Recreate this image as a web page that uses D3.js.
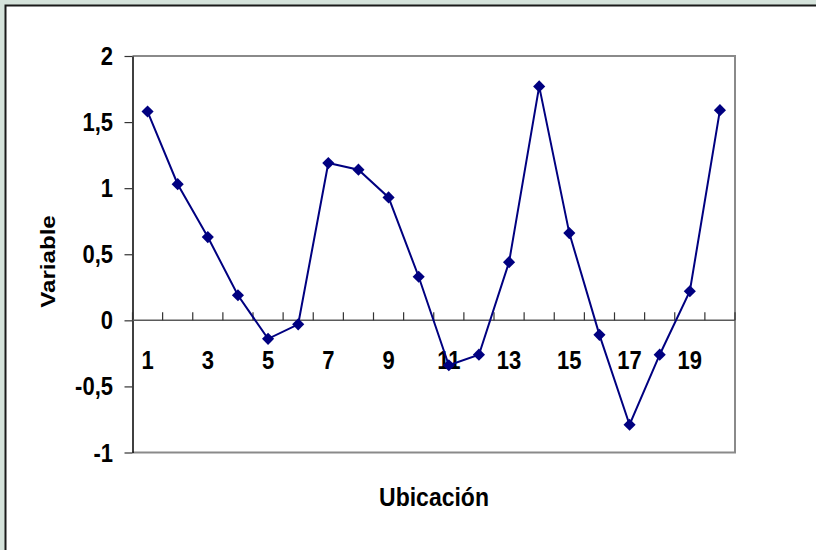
<!DOCTYPE html>
<html>
<head>
<meta charset="utf-8">
<script src="https://cdn.jsdelivr.net/npm/d3@7/dist/d3.min.js"></script>
<style>
  html, body { margin: 0; padding: 0; background: #d5e3db; }
  svg { display: block; }
  text { font-family: "Liberation Sans", Arial, sans-serif; font-weight: bold; fill: #000; }
</style>
</head>
<body>
<svg id="chart" width="816" height="550"></svg>
<script>
// Ubicaciones (categorías del eje X)
const ubicaciones = d3.range(1, 21);
// Valor de la variable en cada ubicación
const valores = [1.58, 1.03, 0.63, 0.19, -0.14, -0.03, 1.19, 1.14, 0.93, 0.33,
                 -0.34, -0.26, 0.44, 1.77, 0.66, -0.11, -0.79, -0.26, 0.22, 1.59];
// Marcas del eje Y y etiquetas impresas del eje X
const yTicks = [-1, -0.5, 0, 0.5, 1, 1.5, 2];
const xLabels = [1, 3, 5, 7, 9, 11, 13, 15, 17, 19];

const svg = d3.select("#chart");
const W = 816, H = 550;
const plot = { left: 132.5, right: 735, top: 56, bottom: 452.5 };
const fontSize = 22, stretch = 1.15;

// Fondo y marco exterior
svg.append("rect").attr("x", 0).attr("y", 0).attr("width", W).attr("height", H).attr("fill", "#d5e3db");
svg.append("rect").attr("x", 5.5).attr("y", 5.5).attr("width", W + 20).attr("height", H + 20)
  .attr("fill", "#fff").attr("stroke", "#1a1a1a").attr("stroke-width", 2);

const x = d3.scaleBand().domain(ubicaciones).range([plot.left, plot.right]).padding(0);
const y = d3.scaleLinear().domain([-1, 2]).range([plot.bottom, plot.top]);

const es = d3.formatLocale({ decimal: ",", thousands: ".", grouping: [3], currency: ["", " €"], minus: "-" });
const fmt = es.format(".1~f");

// Bordes del área de trazado (arriba, derecha, abajo en gris)
svg.append("path")
  .attr("d", `M${plot.left},${plot.top}H${plot.right}V${plot.bottom}H${plot.left}`)
  .attr("fill", "none").attr("stroke", "#8a8a8a").attr("stroke-width", 2);

// Eje Y
const yAxis = svg.append("g").attr("transform", `translate(${plot.left},0)`)
  .call(d3.axisLeft(y).tickValues(yTicks).tickSize(8).tickSizeOuter(0).tickFormat(""));
yAxis.select(".domain").attr("stroke", "#000").attr("stroke-width", 1.5);
yAxis.selectAll(".tick line").attr("stroke", "#333").attr("stroke-width", 1.2);

// Etiquetas del eje Y
svg.append("g").selectAll("g").data(yTicks).join("g")
  .attr("transform", d => `translate(113,${y(d)}) scale(1,${stretch})`)
  .append("text")
  .attr("text-anchor", "end")
  .attr("y", fontSize * 0.716 / 2)
  .attr("font-size", fontSize)
  .text(d => fmt(d));

// Eje X sobre el valor cero, con marcas entre categorías
const boundaries = ubicaciones.map(c => x(c)).concat([x(ubicaciones[ubicaciones.length - 1]) + x.bandwidth()]);
const xAxis = svg.append("g").attr("transform", `translate(0,${y(0)})`);
xAxis.append("line").attr("x1", plot.left).attr("x2", plot.right).attr("y1", 0).attr("y2", 0)
  .attr("stroke", "#5a5a5a").attr("stroke-width", 1.5);
xAxis.selectAll("line.tk").data(boundaries).join("line").attr("class", "tk")
  .attr("x1", d => d).attr("x2", d => d).attr("y1", 0).attr("y2", -8)
  .attr("stroke", "#333").attr("stroke-width", 1.2);

// Etiquetas del eje X (ubicaciones impares)
svg.append("g").selectAll("g").data(xLabels).join("g")
  .attr("transform", d => `translate(${x(d) + x.bandwidth() / 2},359.5) scale(1,${stretch})`)
  .append("text")
  .attr("text-anchor", "middle")
  .attr("y", fontSize * 0.716 / 2)
  .attr("font-size", fontSize)
  .text(d => d);

// Serie
const cx = (d, i) => x(ubicaciones[i]) + x.bandwidth() / 2;
svg.append("path")
  .datum(valores)
  .attr("fill", "none").attr("stroke", "#000080").attr("stroke-width", 2)
  .attr("d", d3.line().x(cx).y(d => y(d)));

svg.append("g").selectAll("path").data(valores).join("path")
  .attr("transform", (d, i) => `translate(${cx(d, i)},${y(d)}) rotate(45)`)
  .attr("d", d3.symbol(d3.symbolSquare, 74)())
  .attr("fill", "#000080");

// Títulos de los ejes
svg.append("g").attr("transform", `translate(434,506) scale(1,${stretch})`)
  .append("text").attr("text-anchor", "middle").attr("font-size", 23).text("Ubicación");

svg.append("g").attr("transform", `translate(55,261.5) scale(1,${stretch})`)
  .append("text").attr("text-anchor", "middle").attr("font-size", 21)
  .attr("transform", "rotate(-90)").text("Variable");
</script>
</body>
</html>
